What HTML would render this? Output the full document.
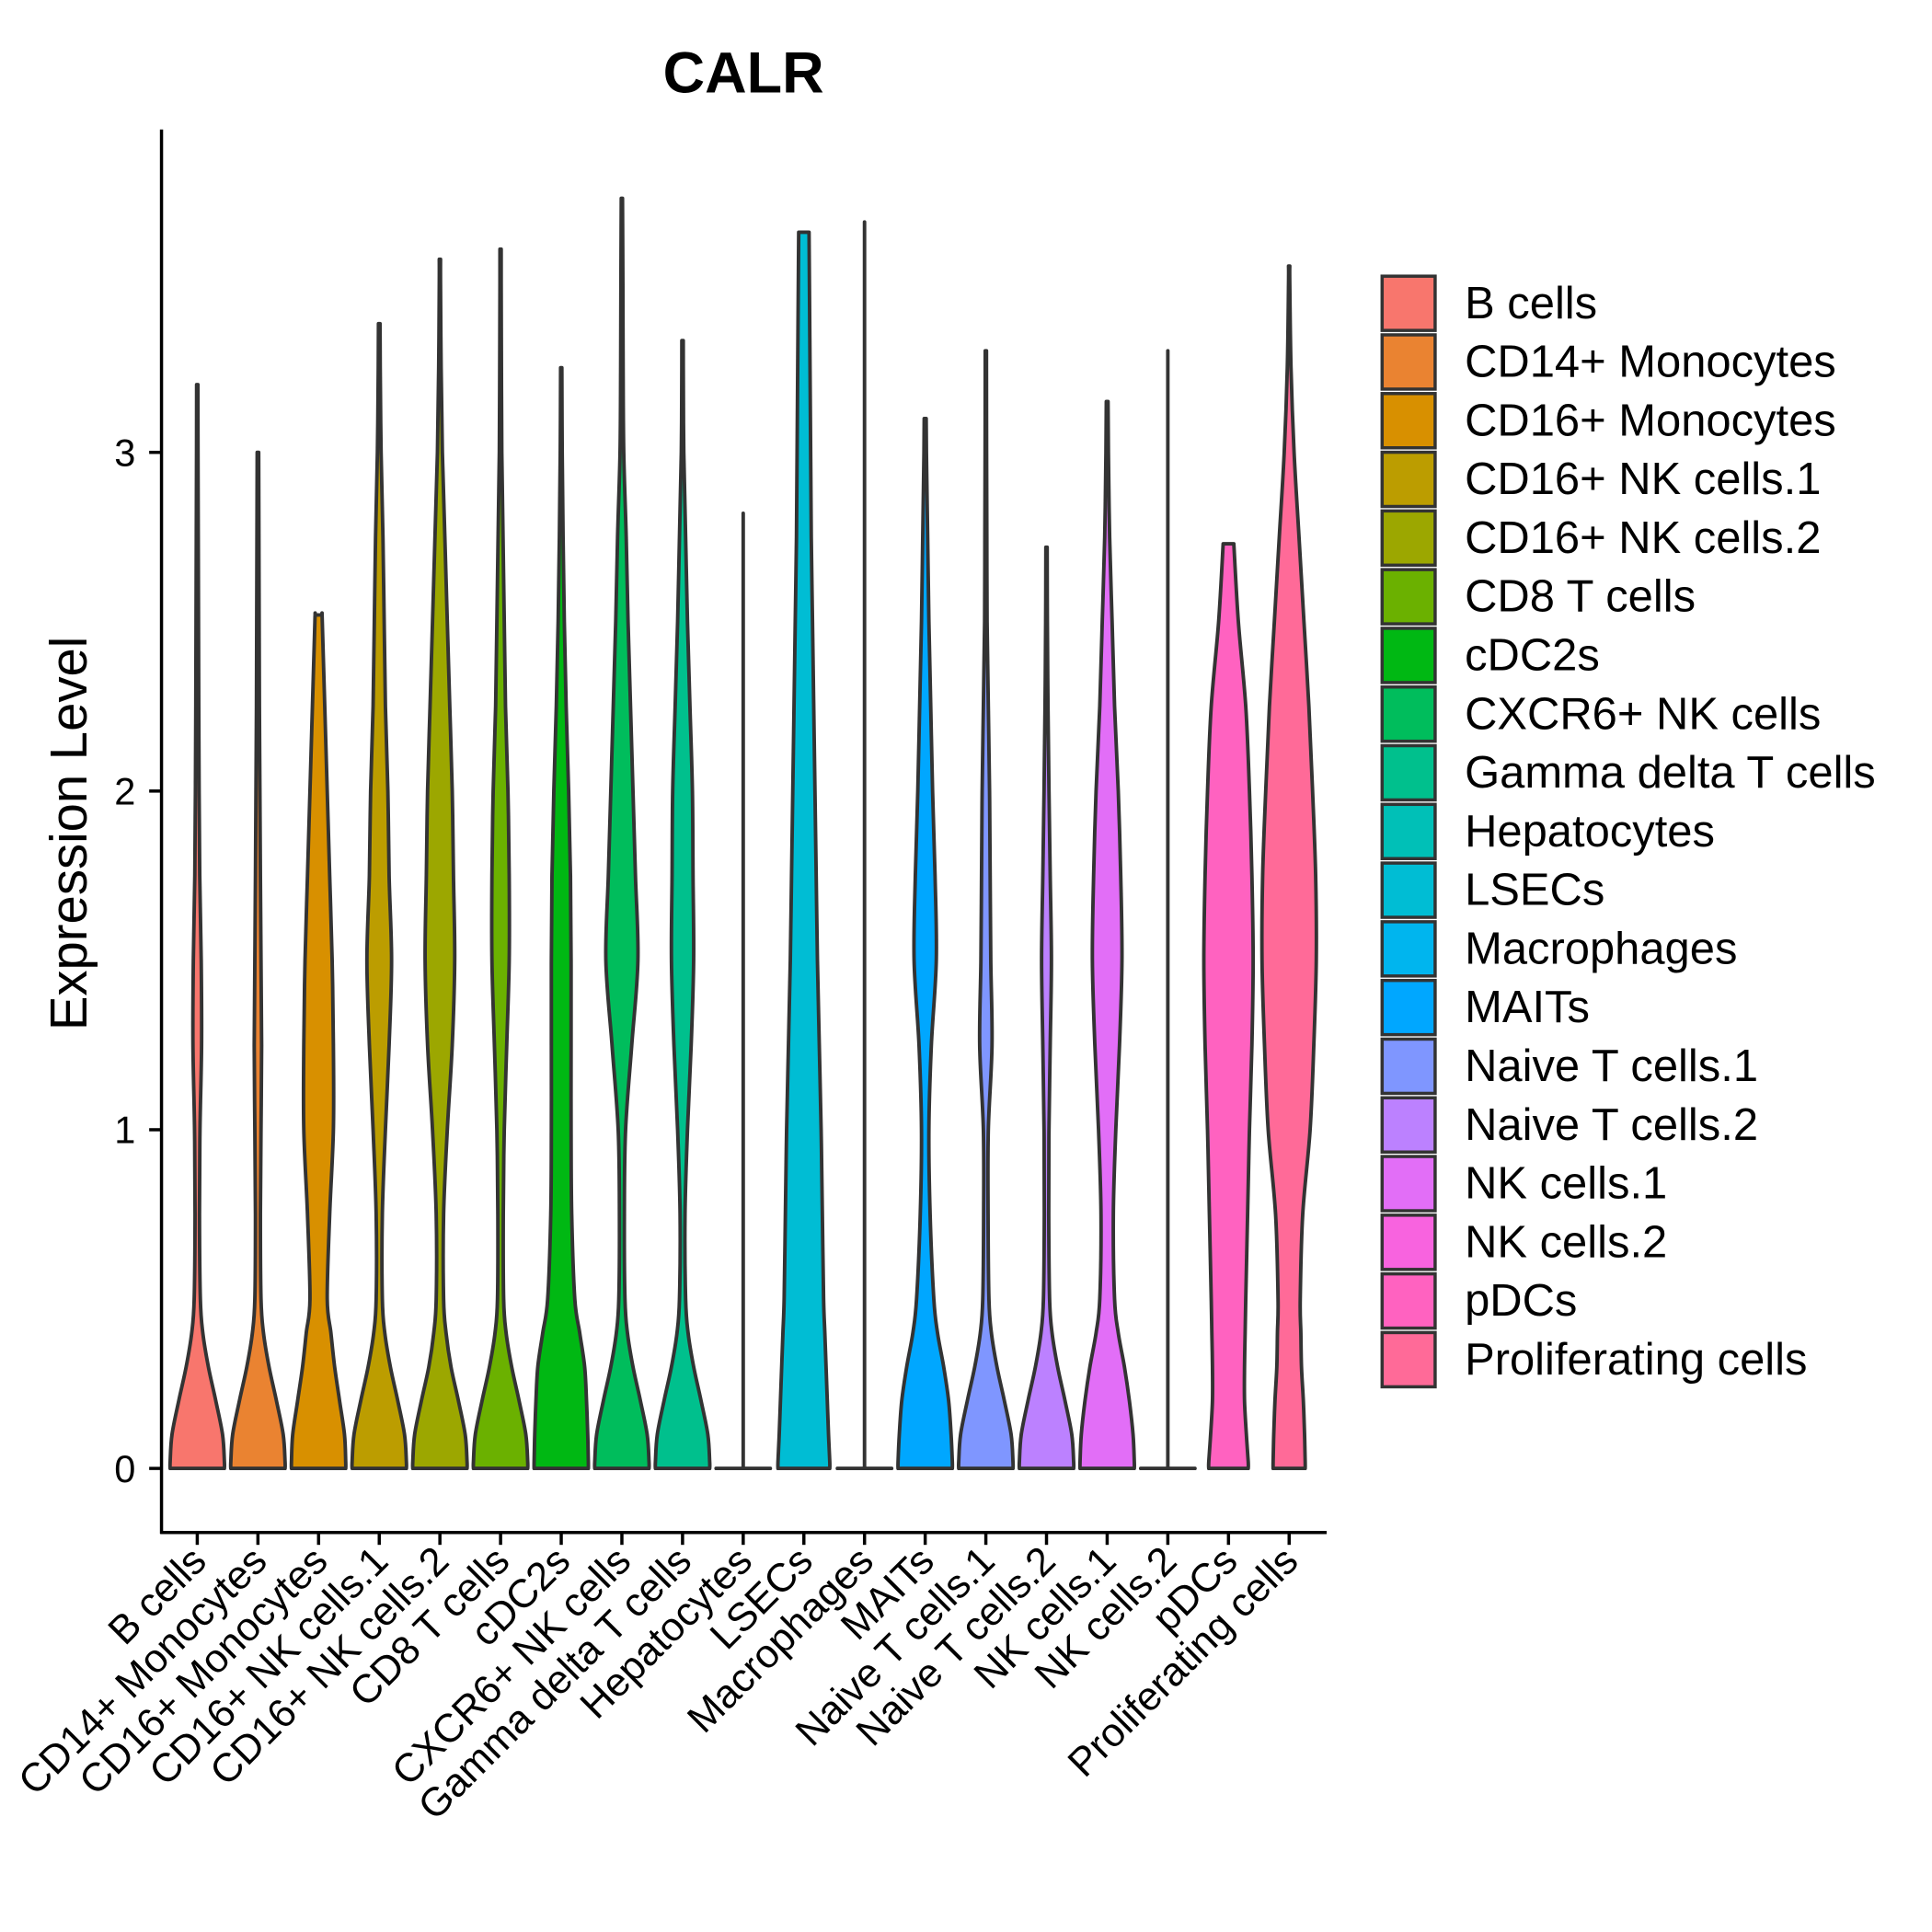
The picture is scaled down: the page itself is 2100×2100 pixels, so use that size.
<!DOCTYPE html>
<html><head><meta charset="utf-8"><style>
html,body{margin:0;padding:0;background:#fff}
svg{display:block}
text{font-family:"Liberation Sans",Arial,sans-serif;fill:#000}
</style></head><body>
<svg id="chart" width="2100" height="2100" viewBox="0 0 1567 1567" xmlns="http://www.w3.org/2000/svg">
<rect width="1567" height="1567" fill="#fff"/>
<text x="603" y="75" font-size="47" font-weight="bold" text-anchor="middle">CALR</text>
<text transform="translate(70,676) rotate(-90)" font-size="42" text-anchor="middle">Expression Level</text>
<g id="plot"></g>
<g id="legend"></g>
</svg>
<script>
const categories = ["B cells","CD14+ Monocytes","CD16+ Monocytes","CD16+ NK cells.1","CD16+ NK cells.2","CD8 T cells","cDC2s","CXCR6+ NK cells","Gamma delta T cells","Hepatocytes","LSECs","Macrophages","MAITs","Naive T cells.1","Naive T cells.2","NK cells.1","NK cells.2","pDCs","Proliferating cells"];
const colors = ["#F8766D","#EA8331","#D89000","#BC9D00","#9CA700","#6BB100","#00B813","#00BD5C","#00C08D","#00C0B7","#00BDD4","#00B5EE","#00A7FF","#7F96FF","#BC81FF","#E26EF7","#F863DF","#FF62C0","#FF6A98"];
const maxValues = [3.2,3.0,2.52,3.38,3.57,3.6,3.25,3.75,3.33,2.82,3.65,3.68,3.1,3.3,2.72,3.15,3.3,2.73,3.55];
const levels = [0,0.02,0.1,0.2,0.3,0.4,0.5,0.75,1,1.25,1.5,1.75,2,2.25,2.5,2.75,3,3.25,3.5,3.75];
const widths = [
[22,22,20.5,15,9,4.5,2.5,1.8,2.2,3.5,3.2,2,1.5,1.2,1,0.8,0.6,0.5,0.5,0.5],
[22,22,20.5,15,9,4.5,2.5,2,2.5,3,2.5,2,1.6,1.2,1,0.8,0.6,0.5,0.5,0.5],
[22,22,21,17,13,10,7,9,12,12,11,9,7,5,3,1,0.5,0.5,0.5,0.5],
[22,22,20.5,15,9,4.5,2.5,2.5,5,8,10,8,7,5,4,3,1.5,0.8,0.5,0.5],
[22,22,20.5,15,9,5,3,3,6,10,12,11,10,8,6,4,2,1,0.5,0.5],
[22,22,20.5,15,9,4.5,2.5,2.2,3,5,7,7,6,4,3,2,1,0.7,0.5,0.5],
[22,22,21.5,20.5,19,15,11,8.5,8,8,8,7.5,6,4,2.5,1.5,0.8,0.5,0.5,0.5],
[22,22,20.5,15,9,4.5,2.5,2,3,8,13,11,9,7,5,3.5,1.5,1,0.8,0.5],
[22,22,20.5,15,9,4.5,2.5,2,4,7,9,8.5,8,6,4,2.5,1,0.6,0.5,0.5],
[22,0,0,0,0,0,0,0,0,0,0,0,0,0,0,0,0,0,0,0],
[21,21,20,19,18,17,16,15,14,12.5,11,10,9,8,7,6,5.5,5,4.5,4],
[22,0,0,0,0,0,0,0,0,0,0,0,0,0,0,0,0,0,0,0],
[22,22,21,19,15,10,7,4,3,5,9,8,6,4.5,3,2,1,0.5,0.5,0.5],
[22,22,20.5,15,9,4.5,2.5,1.8,2,5,4,3.5,3,2,1,0.8,0.6,0.5,0.5,0.5],
[22,22,20.5,15,9,4.5,2.5,1.8,2,3,4,3,2,1.2,0.7,0.5,0.5,0.5,0.5,0.5],
[22,22,21,18,14,9,6,5,7,10,12,11,9,6,4,2,1,0.5,0.5,0.5],
[22,0,0,0,0,0,0,0,0,0,0,0,0,0,0,0,0,0,0,0],
[16,16,14.5,13,13,13.5,14,15.5,17,19,20,19,17,14,8,4,3,3,3,3],
[13,13,12.5,11.5,10,9.5,9,11,17,20,22,21.5,19,16,12,8,4,1.5,0.5,0.5]
];
const yTicks = [0,1,2,3];

const NS = "http://www.w3.org/2000/svg";
const plot = document.getElementById('plot');
const legend = document.getElementById('legend');
const X0 = 160, STEP = 49.2;
function xScale(i){ return X0 + i*STEP; }
function yScale(v){ return 1191 - v*274.7; }
function mk(tag, attrs, parent){ const e=document.createElementNS(NS,tag); for(const k in attrs) e.setAttribute(k, attrs[k]); parent.appendChild(e); return e; }

let ax = mk('line',{x1:131,y1:105,x2:131,y2:1244,stroke:'#000','stroke-width':2.6},plot);


let bx = mk('line',{x1:130,y1:1243,x2:1076,y2:1243,stroke:'#000','stroke-width':2.6},plot);


yTicks.forEach(t=>{
  const y=yScale(t);
  const tk=mk('line',{x1:121,y1:y,x2:131,y2:y,stroke:'#000','stroke-width':2.6},plot);
  
  
  const tl=mk('text',{x:110,y:y+11,'font-size':31,'text-anchor':'end'},plot);
  tl.textContent=t;
  
  
});

function interpW(w, v){
  for(let k=0;k<levels.length-1;k++){
    if(v<=levels[k+1]){ const f=(v-levels[k])/(levels[k+1]-levels[k]); return w[k]+(w[k+1]-w[k])*f; }
  }
  return w[w.length-1];
}
function catmull(pts){
  let d='';
  for(let i=0;i<pts.length-1;i++){
    const p0=pts[Math.max(0,i-1)],p1=pts[i],p2=pts[i+1],p3=pts[Math.min(pts.length-1,i+2)];
    const c1=[p1[0]+(p2[0]-p0[0])/6,p1[1]+(p2[1]-p0[1])/6];
    const c2=[p2[0]-(p3[0]-p1[0])/6,p2[1]-(p3[1]-p1[1])/6];
    d+=` C${c1[0].toFixed(2)},${c1[1].toFixed(2)} ${c2[0].toFixed(2)},${c2[1].toFixed(2)} ${p2[0].toFixed(2)},${p2[1].toFixed(2)}`;
  }
  return d;
}
categories.forEach((c,i)=>{
  const cx=xScale(i), mx=maxValues[i], w=widths[i];
  const prof=[];
  levels.forEach((l,k)=>{ if(l<mx) prof.push([l,w[k]]); });
  prof.push([mx, interpW(w,mx)]);
  let d;
  if (w[1]===0) {
    d=`M${cx-w[0]},${yScale(0)} L${cx+w[0]},${yScale(0)} M${cx},${yScale(0)} L${cx},${yScale(mx)}`;
  } else {
    const right=prof.map(p=>[cx+p[1], yScale(p[0])]);
    const left=prof.slice().reverse().map(p=>[cx-p[1], yScale(p[0])]);
    d=`M${right[0][0]},${right[0][1]}`+catmull(right)+` L${left[0][0]},${left[0][1]}`+catmull(left)+' Z';
  }
  const path=mk('path',{d:d,fill:colors[i],stroke:'#333','stroke-width':2.9,'stroke-linejoin':'round','stroke-linecap':'round'},plot);
  
  
  const tk=mk('line',{x1:cx,y1:1243,x2:cx,y2:1253,stroke:'#000','stroke-width':2.6},plot);
  
  
  const tl=mk('text',{transform:`translate(${cx+9},${1268}) rotate(-45)`,'font-size':32.5,'text-anchor':'end'},plot);
  tl.textContent=c;
  
  
  const ly=224+i*47.6;
  const lb=mk('rect',{x:1121,y:ly,width:43,height:44,fill:colors[i],stroke:'#333','stroke-width':2.6},legend);
  
  
  const lt=mk('text',{x:1188,y:ly+34,'font-size':36.5},legend);
  lt.textContent=c;
  
  
});
</script>
</body></html>
